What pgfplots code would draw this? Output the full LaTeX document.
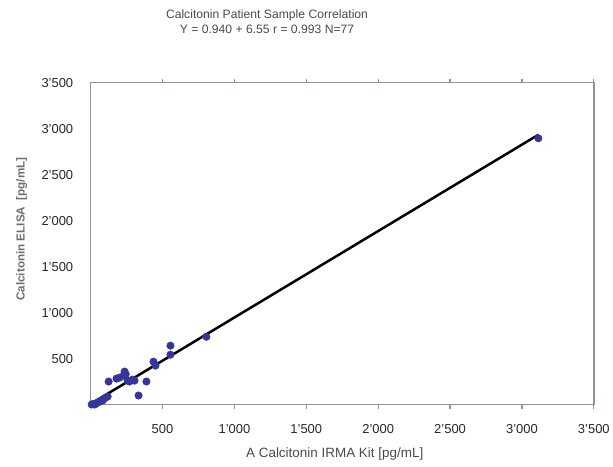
\documentclass[border=0pt]{standalone}
\usepackage{pgfplots}
\pgfplotsset{compat=1.18}
\usepackage{fontspec}
\setmainfont{Liberation Sans}
\definecolor{dotblue}{HTML}{35359A}
\definecolor{framegray}{HTML}{8E959E}
\definecolor{labgray}{HTML}{4A4A4A}

\begin{document}
\begin{tikzpicture}
  % page frame, same proportions as the reference
  \path (-91pt,-62pt) rectangle (522pt,406pt);
  \begin{axis}[
      at={(0,0)}, anchor=south west,
      scale only axis,
      width=505pt, height=323pt,
      xmin=0, xmax=3500, ymin=0, ymax=3500,
      xtick={500,1000,...,3500},
      ytick={500,1000,...,3500},
      tick align=outside,
      major tick length=4pt,
      ytick style={draw=none},
      xtick style={framegray, line width=1.2pt},
      axis line style={framegray, line width=1.6pt},
      /pgf/number format/assume math mode=true,
      /pgf/number format/1000 sep={'},
      tick label style={font=\fontsize{13}{15}\selectfont, text=black!85},
      xticklabel style={yshift=-12pt},
      yticklabel style={xshift=-10pt},
      xlabel={A Calcitonin IRMA Kit [pg/mL]},
      ylabel={Calcitonin ELISA \ [pg/mL]},
      xlabel style={font=\fontsize{13.5}{15}\selectfont, text=labgray,
        at={(axis description cs:0.485,-0.155)}, anchor=center},
      ylabel style={font=\bfseries\fontsize{11.7}{13}\selectfont, text=labgray!80,
        at={(axis description cs:-0.137,0.545)}, anchor=center, rotate=0},
      clip=false,
    ]
    \addplot[only marks, mark=*, mark size=3.8pt,
      mark options={fill=dotblue, draw=dotblue}]
      coordinates {
        (555,640) (555,542) (805,737) (437,466) (451,423)
        (125,250) (180,282) (201,293) (236,358) (229,315)
        (244,330) (257,260) (291,271) (305,260) (270,250)
        (388,250) (333,98) (118,87) (83,43) (49,22)
        (7,0) (28,0) (15,5) (38,12) (60,30) (70,40)
        (100,70) (3114,2896)
      };
    \addplot[black, line width=2.5pt] coordinates {(0,6.55) (3114,2933.7)};
  \end{axis}
  \node[align=center, font=\fontsize{12.2}{15}\selectfont, text=labgray]
    at (177pt,384pt) {Calcitonin Patient Sample Correlation\\
      Y = 0.940 + 6.55 r = 0.993 N=77};
\end{tikzpicture}
\end{document}
